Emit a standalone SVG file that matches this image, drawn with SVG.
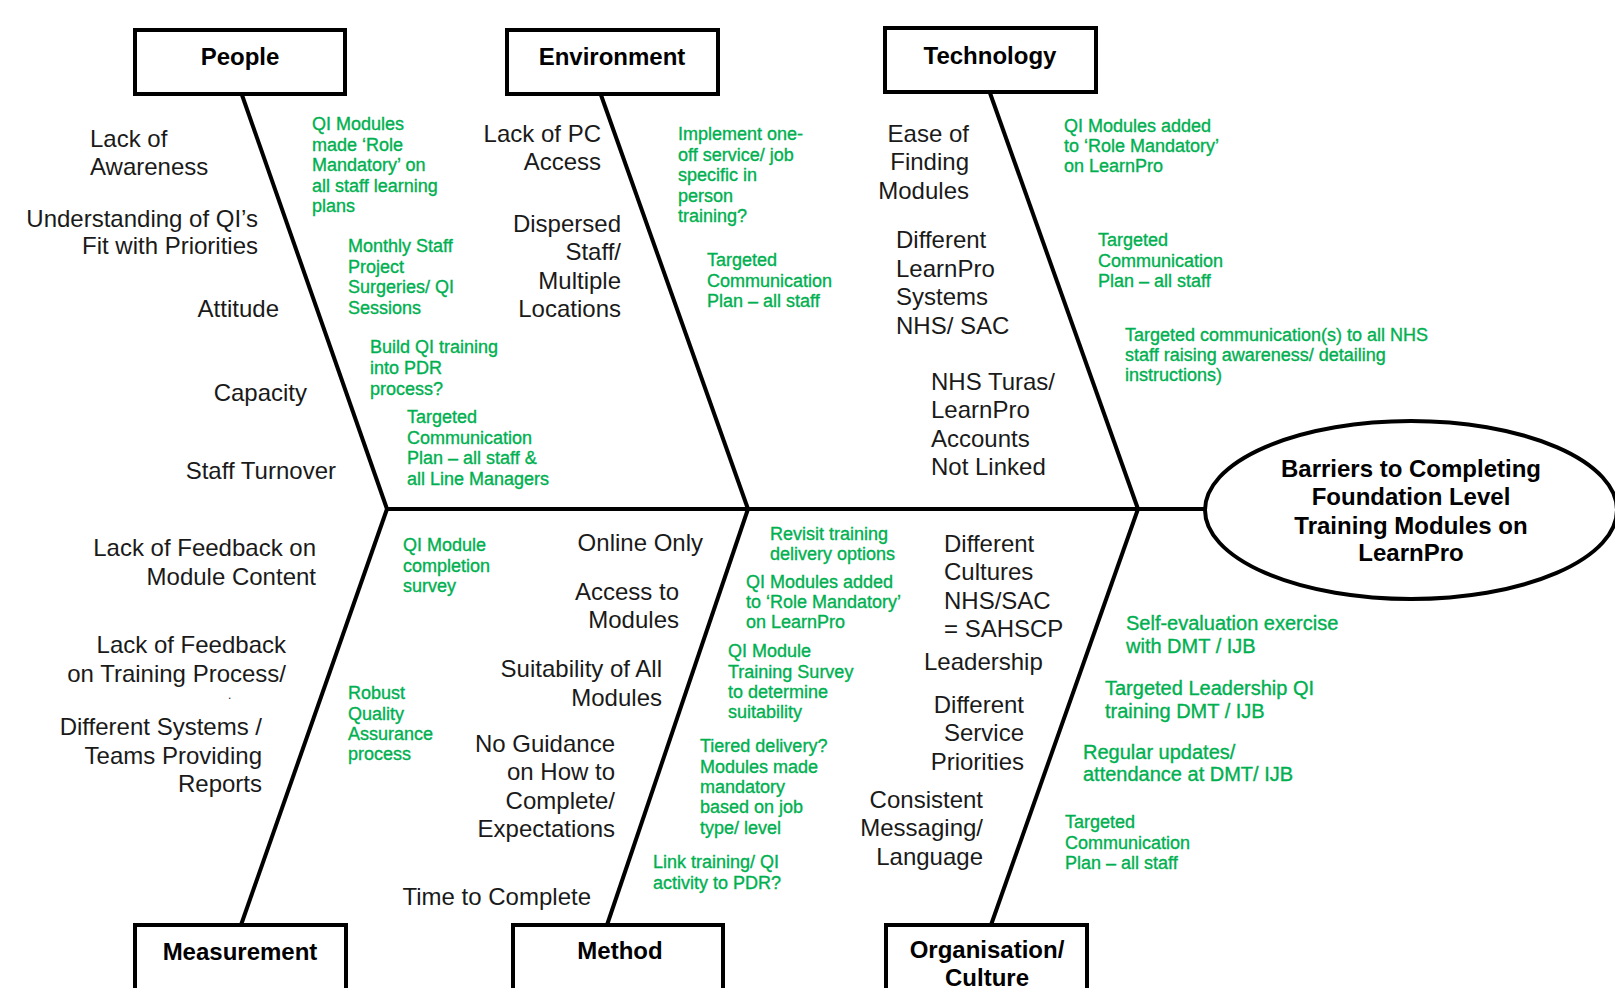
<svg xmlns="http://www.w3.org/2000/svg" width="1615" height="988" viewBox="0 0 1615 988">
<style>
.box{fill:#fff;stroke:#000;stroke-width:4}
.hd{font-family:"Liberation Sans",Arial,sans-serif;font-weight:bold;font-size:24px;fill:#000;text-anchor:middle}
.lb{font-family:"Liberation Sans",Arial,sans-serif;font-size:24px;fill:#1a1a1a}
.g{font-family:"Liberation Sans",Arial,sans-serif;font-size:18px;fill:#00B050;stroke:#00B050;stroke-width:0.35}
.g2{font-size:20px}
.e{text-anchor:end}
.ln{stroke:#000;stroke-width:4;fill:none}
</style>
<rect width="1615" height="988" fill="#fff"/>
<g id="connectors">
<path class="ln" d="M387 509 H1206"/>
<path class="ln" d="M242 95 L387 509"/>
<path class="ln" d="M601 95 L748 509"/>
<path class="ln" d="M990 93 L1138 509"/>
<path class="ln" d="M387 509 L241 925"/>
<path class="ln" d="M748 509 L607 925"/>
<path class="ln" d="M1138 509 L991 925"/>
</g>
<g id="effect">
<ellipse cx="1411" cy="510" rx="206" ry="89" fill="#fff" stroke="#000" stroke-width="4"/>
<text class="hd" x="1411" y="477">Barriers to Completing<tspan x="1411" dy="28">Foundation Level</tspan><tspan x="1411" dy="29">Training Modules on</tspan><tspan x="1411" dy="27">LearnPro</tspan></text>
</g>
<g id="people">
<rect class="box" x="135" y="30" width="210" height="64"/>
<text class="hd" x="240" y="65">People</text>
<text class="lb" x="90" y="147">Lack of<tspan x="90" dy="28">Awareness</tspan></text>
<text class="lb e" x="258" y="227">Understanding of QI’s<tspan x="258" dy="27">Fit with Priorities</tspan></text>
<text class="lb e" x="279" y="317">Attitude</text>
<text class="lb e" x="307" y="401">Capacity</text>
<text class="lb e" x="336" y="479">Staff Turnover</text>
<text class="g" x="312" y="130">QI Modules<tspan x="312" dy="20.5">made ‘Role</tspan><tspan x="312" dy="20.5">Mandatory’ on</tspan><tspan x="312" dy="20.5">all staff learning</tspan><tspan x="312" dy="20.5">plans</tspan></text>
<text class="g" x="348" y="252">Monthly Staff<tspan x="348" dy="20.5">Project</tspan><tspan x="348" dy="20.5">Surgeries/ QI</tspan><tspan x="348" dy="20.5">Sessions</tspan></text>
<text class="g" x="370" y="353">Build QI training<tspan x="370" dy="21">into PDR</tspan><tspan x="370" dy="21">process?</tspan></text>
<text class="g" x="407" y="423">Targeted<tspan x="407" dy="20.5">Communication</tspan><tspan x="407" dy="20.5">Plan – all staff &amp;</tspan><tspan x="407" dy="20.5">all Line Managers</tspan></text>
</g>
<g id="environment">
<rect class="box" x="507" y="30" width="211" height="64"/>
<text class="hd" x="612" y="65">Environment</text>
<text class="lb e" x="601" y="142">Lack of PC<tspan x="601" dy="28">Access</tspan></text>
<text class="lb e" x="621" y="232">Dispersed<tspan x="621" dy="28">Staff/</tspan><tspan x="621" dy="28.5">Multiple</tspan><tspan x="621" dy="28.5">Locations</tspan></text>
<text class="g" x="678" y="140">Implement one-<tspan x="678" dy="20.5">off service/ job</tspan><tspan x="678" dy="20.5">specific in</tspan><tspan x="678" dy="20.5">person</tspan><tspan x="678" dy="20.5">training?</tspan></text>
<text class="g" x="707" y="266">Targeted<tspan x="707" dy="20.5">Communication</tspan><tspan x="707" dy="20.5">Plan – all staff</tspan></text>
</g>
<g id="technology">
<rect class="box" x="885" y="28" width="211" height="64"/>
<text class="hd" x="990" y="64">Technology</text>
<text class="lb e" x="969" y="142">Ease of<tspan x="969" dy="28">Finding</tspan><tspan x="969" dy="28.5">Modules</tspan></text>
<text class="lb" x="896" y="248">Different<tspan x="896" dy="28.5">LearnPro</tspan><tspan x="896" dy="28.5">Systems</tspan><tspan x="896" dy="28.5">NHS/ SAC</tspan></text>
<text class="lb" x="931" y="390">NHS Turas/<tspan x="931" dy="28">LearnPro</tspan><tspan x="931" dy="28.5">Accounts</tspan><tspan x="931" dy="28">Not Linked</tspan></text>
<text class="g" x="1064" y="132">QI Modules added<tspan x="1064" dy="20">to ‘Role Mandatory’</tspan><tspan x="1064" dy="20">on LearnPro</tspan></text>
<text class="g" x="1098" y="246">Targeted<tspan x="1098" dy="20.5">Communication</tspan><tspan x="1098" dy="20">Plan – all staff</tspan></text>
<text class="g" x="1125" y="341">Targeted communication(s) to all NHS<tspan x="1125" dy="20">staff raising awareness/ detailing</tspan><tspan x="1125" dy="20">instructions)</tspan></text>
</g>
<g id="measurement">
<rect class="box" x="135" y="925" width="211" height="66"/>
<text class="hd" x="240" y="960">Measurement</text>
<text class="lb e" x="316" y="556">Lack of Feedback on<tspan x="316" dy="28.5">Module Content</tspan></text>
<text class="lb e" x="286" y="653">Lack of Feedback<tspan x="286" dy="28.5">on Training Process/</tspan></text>
<text class="lb" x="228" y="699" style="font-size:12px">.</text>
<text class="lb e" x="262" y="735">Different Systems /<tspan x="262" dy="28.5">Teams Providing</tspan><tspan x="262" dy="28.5">Reports</tspan></text>
<text class="g" x="403" y="551">QI Module<tspan x="403" dy="20.5">completion</tspan><tspan x="403" dy="20.5">survey</tspan></text>
<text class="g" x="348" y="699">Robust<tspan x="348" dy="20.5">Quality</tspan><tspan x="348" dy="20">Assurance</tspan><tspan x="348" dy="20.5">process</tspan></text>
</g>
<g id="method">
<rect class="box" x="513" y="925" width="210" height="66"/>
<text class="hd" x="620" y="959">Method</text>
<text class="lb e" x="703" y="551">Online Only</text>
<text class="lb e" x="679" y="600">Access to<tspan x="679" dy="27.5">Modules</tspan></text>
<text class="lb e" x="662" y="677">Suitability of All<tspan x="662" dy="28.5">Modules</tspan></text>
<text class="lb e" x="615" y="752">No Guidance<tspan x="615" dy="28">on How to</tspan><tspan x="615" dy="28.5">Complete/</tspan><tspan x="615" dy="28">Expectations</tspan></text>
<text class="lb e" x="591" y="905">Time to Complete</text>
<text class="g" x="770" y="540">Revisit training<tspan x="770" dy="20">delivery options</tspan></text>
<text class="g" x="746" y="588">QI Modules added<tspan x="746" dy="20">to ‘Role Mandatory’</tspan><tspan x="746" dy="20">on LearnPro</tspan></text>
<text class="g" x="728" y="657">QI Module<tspan x="728" dy="20.5">Training Survey</tspan><tspan x="728" dy="20">to determine</tspan><tspan x="728" dy="20.5">suitability</tspan></text>
<text class="g" x="700" y="752">Tiered delivery?<tspan x="700" dy="20.5">Modules made</tspan><tspan x="700" dy="20">mandatory</tspan><tspan x="700" dy="20.5">based on job</tspan><tspan x="700" dy="20.5">type/ level</tspan></text>
<text class="g" x="653" y="868">Link training/ QI<tspan x="653" dy="21">activity to PDR?</tspan></text>
</g>
<g id="organisation">
<rect class="box" x="886" y="925" width="201" height="66"/>
<text class="hd" x="987" y="958">Organisation/<tspan x="987" dy="28">Culture</tspan></text>
<text class="lb" x="944" y="552">Different<tspan x="944" dy="28">Cultures</tspan><tspan x="944" dy="28.5">NHS/SAC</tspan><tspan x="944" dy="28">= SAHSCP</tspan></text>
<text class="lb" x="924" y="670">Leadership</text>
<text class="lb e" x="1024" y="713">Different<tspan x="1024" dy="28">Service</tspan><tspan x="1024" dy="29">Priorities</tspan></text>
<text class="lb e" x="983" y="808">Consistent<tspan x="983" dy="28">Messaging/</tspan><tspan x="983" dy="29">Language</tspan></text>
<text class="g g2" x="1126" y="630">Self-evaluation exercise<tspan x="1126" dy="22.5">with DMT / IJB</tspan></text>
<text class="g g2" x="1105" y="695">Targeted Leadership QI<tspan x="1105" dy="22.5">training DMT / IJB</tspan></text>
<text class="g g2" x="1083" y="759">Regular updates/<tspan x="1083" dy="22">attendance at DMT/ IJB</tspan></text>
<text class="g" x="1065" y="828">Targeted<tspan x="1065" dy="20.5">Communication</tspan><tspan x="1065" dy="20">Plan – all staff</tspan></text>
</g>
</svg>
